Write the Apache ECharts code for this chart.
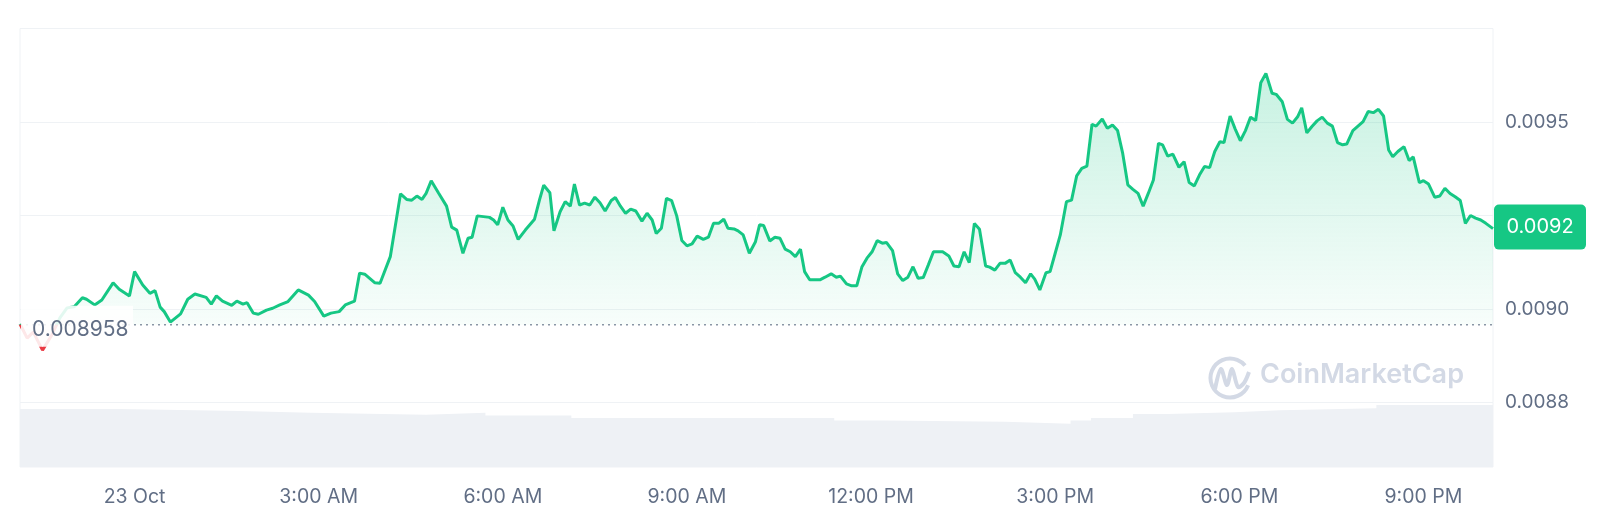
<!DOCTYPE html>
<html>
<head>
<meta charset="utf-8">
<script src="https://cdn.jsdelivr.net/npm/echarts@6/dist/echarts.min.js"></script>
<style>html,body{margin:0;padding:0;background:#fff}#c{width:1600px;height:512px}</style>
</head>
<body>
<div id="c"></div>
<script>
// minutes relative to 23 Oct 00:00
const minutes = [-112,-105,-99,-90,-81,-73,-66,-59,-51,-47,-39,-32,-21,-15,-5,0,8,15,20,25,29,35,45,52,59,70,75,80,86,95,100,106,110,116,121,129,135,142,150,160,170,176,185,192,200,206,215,220,225,235,240,250,260,266,271,276,281,285,290,297,305,310,315,321,326,330,335,341,347,351,355,360,365,370,375,382,391,396,400,406,410,416,421,426,430,435,440,445,450,455,460,466,470,475,480,485,490,496,501,506,510,515,520,525,530,535,540,545,550,556,561,566,571,576,580,586,590,595,601,607,611,615,621,626,631,636,641,646,651,655,660,670,675,681,686,690,696,701,706,711,716,721,726,731,735,741,746,751,756,761,766,771,776,781,790,796,801,806,811,816,821,826,832,836,841,846,851,856,861,866,871,876,880,885,891,895,900,905,911,916,921,926,931,936,940,946,951,956,961,966,971,976,981,986,991,996,1001,1005,1010,1015,1021,1026,1031,1036,1041,1046,1051,1056,1061,1065,1071,1076,1081,1086,1091,1096,1101,1106,1112,1116,1122,1127,1132,1137,1141,1146,1151,1156,1161,1166,1171,1176,1181,1185,1191,1196,1201,1206,1211,1216,1221,1226,1230,1235,1241,1246,1250,1256,1260,1265,1271,1276,1281,1286,1291,1296,1301,1306,1311,1316,1321,1326,1328];
const prices = [0.008960,0.008922,0.008938,0.008890,0.008930,0.008976,0.009003,0.009006,0.009030,0.009026,0.009011,0.009024,0.009070,0.009053,0.009035,0.009100,0.009064,0.009042,0.009049,0.009005,0.008993,0.008965,0.008987,0.009026,0.009040,0.009031,0.009013,0.009035,0.009021,0.009010,0.009021,0.009013,0.009017,0.008989,0.008986,0.008997,0.009002,0.009011,0.009020,0.009051,0.009037,0.009020,0.008981,0.008989,0.008993,0.009011,0.009021,0.009096,0.009093,0.009070,0.009069,0.009140,0.009308,0.009293,0.009291,0.009302,0.009293,0.009309,0.009343,0.009311,0.009275,0.009219,0.009211,0.009149,0.009189,0.009192,0.009249,0.009247,0.009245,0.009238,0.009225,0.009272,0.009238,0.009222,0.009186,0.009211,0.009240,0.009293,0.009331,0.009311,0.009209,0.009260,0.009287,0.009275,0.009334,0.009278,0.009283,0.009278,0.009299,0.009284,0.009262,0.009290,0.009298,0.009275,0.009256,0.009267,0.009262,0.009235,0.009256,0.009238,0.009202,0.009216,0.009296,0.009290,0.009249,0.009183,0.009169,0.009174,0.009195,0.009186,0.009192,0.009229,0.009229,0.009240,0.009216,0.009214,0.009209,0.009198,0.009149,0.009180,0.009225,0.009223,0.009182,0.009192,0.009189,0.009160,0.009153,0.009140,0.009160,0.009100,0.009078,0.009078,0.009085,0.009094,0.009085,0.009088,0.009067,0.009062,0.009062,0.009112,0.009136,0.009153,0.009183,0.009176,0.009178,0.009156,0.009094,0.009076,0.009085,0.009113,0.009082,0.009084,0.009118,0.009153,0.009153,0.009142,0.009115,0.009113,0.009153,0.009124,0.009229,0.009213,0.009115,0.009112,0.009104,0.009122,0.009122,0.009131,0.009097,0.009085,0.009070,0.009094,0.009080,0.009051,0.009097,0.009100,0.009149,0.009198,0.009287,0.009291,0.009356,0.009376,0.009382,0.009494,0.009489,0.009508,0.009483,0.009492,0.009477,0.009416,0.009332,0.009320,0.009309,0.009275,0.009309,0.009345,0.009443,0.009439,0.009409,0.009414,0.009379,0.009394,0.009338,0.009329,0.009358,0.009381,0.009378,0.009421,0.009447,0.009445,0.009516,0.009481,0.009450,0.009477,0.009513,0.009504,0.009605,0.009630,0.009577,0.009574,0.009554,0.009507,0.009497,0.009514,0.009538,0.009471,0.009488,0.009503,0.009513,0.009497,0.009489,0.009445,0.009439,0.009441,0.009477,0.009489,0.009501,0.009528,0.009525,0.009534,0.009516,0.009425,0.009407,0.009421,0.009434,0.009397,0.009407,0.009338,0.009343,0.009334,0.009299,0.009302,0.009323,0.009309,0.009300,0.009290,0.009229,0.009250,0.009243,0.009238,0.009229,0.009219,0.009215];
const openPrice = 0.008958;
const volMinutes = [-112,-15,103,172,285,343,427,684,733,851,915,935,976,1010,1075,1120,1214,1328];
const volValues = [90,87,84,81,84,80,76,72,70,67,72,76,82,85,88,91,96,96];
const priceTickLabels = ['0.0088','0.0090','','0.0095',''];
const timeTickLabels = ['23 Oct','3:00 AM','6:00 AM','9:00 AM','12:00 PM','3:00 PM','6:00 PM','9:00 PM'];
const timeTickMinutes = [0,180,360,540,720,900,1080,1260];

const priceData = minutes.map((m, i) => [m, prices[i]]);
const volData = volMinutes.map((m, i) => [m, volValues[i]]);
const xMin = minutes[0], xMax = minutes[minutes.length - 1];
const last = priceData[priceData.length - 1];

const GREEN = '#16c784', RED = '#ea3943', GRAY = '#616e85', LINE = '#eff2f5', WM = '#d3d9e5';
const gTop = 28.5, gH = 374, yMin = 0.00875, yMax = 0.00975;
const baseY = gTop + (yMax - openPrice) / (yMax - yMin) * gH;

const timeFmt = v => {
  const i = timeTickMinutes.indexOf(Math.round(v));
  return i >= 0 ? timeTickLabels[i] : '';
};

const chart = echarts.init(document.getElementById('c'), null, {renderer: 'canvas'});
chart.setOption({
  animation: false,
  textStyle: {fontFamily: 'Inter'},
  grid: [
    {left: 20, right: 107, top: gTop, height: gH, show: true, borderColor: LINE, borderWidth: 1},
    {left: 20, right: 107, top: gTop + gH, height: 64.5, show: true, borderColor: LINE, borderWidth: 1}
  ],
  xAxis: [
    {type: 'value', gridIndex: 0, min: xMin, max: xMax, axisLine: {show: false}, axisTick: {show: false},
     axisLabel: {show: false}, splitLine: {show: false}},
    {type: 'value', gridIndex: 1, min: xMin, max: xMax,
     axisLine: {show: false}, axisTick: {show: false}, splitLine: {show: false},
     axisLabel: {customValues: timeTickMinutes, formatter: timeFmt, color: GRAY, fontSize: 19.5, margin: 20, hideOverlap: false}}
  ],
  yAxis: [
    {type: 'value', gridIndex: 0, position: 'right', min: yMin, max: yMax, interval: 0.00025,
     axisLine: {show: false}, axisTick: {show: false},
     splitLine: {lineStyle: {color: LINE, width: 1}},
     axisLabel: {formatter: (v, i) => priceTickLabels[i] || '', color: GRAY, fontSize: 19, margin: 12}},
    {type: 'value', gridIndex: 1, min: 0, max: 100, show: false, splitLine: {show: false}}
  ],
  series: [
    {
      type: 'line', xAxisIndex: 0, yAxisIndex: 0, data: [[xMin, openPrice], [xMax, openPrice]],
      showSymbol: false, silent: true, z: 2,
      lineStyle: {color: '#8c95a6', type: [2, 4], width: 1.6}
    },
    {
      type: 'line', xAxisIndex: 0, yAxisIndex: 0, data: priceData, showSymbol: false, z: 3,
      lineStyle: {
        width: 3,
        color: new echarts.graphic.LinearGradient(0, baseY - 0.5, 0, baseY + 0.5, [
          {offset: 0, color: GREEN}, {offset: 1, color: RED}
        ], true)
      },
      itemStyle: {color: GREEN},
      areaStyle: {
        origin: openPrice,
        opacity: 1,
        color: new echarts.graphic.LinearGradient(0, 60, 0, 360, [
          {offset: 0, color: 'rgba(22,199,132,0.25)'},
          {offset: (baseY - 60) / 300, color: 'rgba(22,199,132,0.03)'},
          {offset: (baseY - 59) / 300, color: 'rgba(234,57,67,0.05)'},
          {offset: 1, color: 'rgba(234,57,67,0.15)'}
        ], true)
      }
    },
    {
      type: 'line', xAxisIndex: 1, yAxisIndex: 1, data: volData, step: 'end', showSymbol: false, silent: true,
      lineStyle: {width: 0}, itemStyle: {color: '#eef1f5'},
      areaStyle: {color: '#eef1f5', opacity: 1}
    }
  ]
});

const p0 = chart.convertToPixel({gridIndex: 0}, [xMin, openPrice]);
const pl = chart.convertToPixel({gridIndex: 0}, last);
chart.setOption({
  graphic: [
    {type: 'arc', shape: {cx: 1230, cy: 378, r: 19.5, startAngle: Math.PI * 0.12, endAngle: Math.PI * 1.78, clockwise: true},
     style: {stroke: WM, lineWidth: 4, fill: null}, z: 0},
    {type: 'polyline', shape: {points: [[1215, 389], [1221, 369], [1227, 385], [1232, 369], [1238, 387], [1244, 383], [1249, 372]], smooth: 0.3},
     style: {stroke: WM, lineWidth: 4, fill: null}, z: 0},
    {type: 'text', left: 1260, top: 361, style: {text: 'CoinMarketCap', fontSize: 27, fontWeight: 600, fontFamily: 'Inter', fill: WM}, z: 0},
    {type: 'rect', shape: {x: p0[0] + 1, y: p0[1] - 19, width: 112, height: 41}, style: {fill: 'rgba(255,255,255,0.88)'}, z: 100},
    {type: 'text', x: p0[0] + 12, y: p0[1] + 5,
     style: {text: String(openPrice), fontSize: 21, fontFamily: 'Inter', fill: GRAY, verticalAlign: 'middle', align: 'left'}, z: 101},
    {type: 'rect', shape: {x: pl[0] + 1, y: pl[1] - 24, width: 92, height: 45, r: 5}, style: {fill: GREEN}, z: 100},
    {type: 'text', x: pl[0] + 47, y: pl[1] - 1.5,
     style: {text: last[1].toFixed(4), fontSize: 20, fontFamily: 'Inter', fill: '#fff', verticalAlign: 'middle', align: 'center'}, z: 101}
  ]
});
</script>
</body>
</html>
